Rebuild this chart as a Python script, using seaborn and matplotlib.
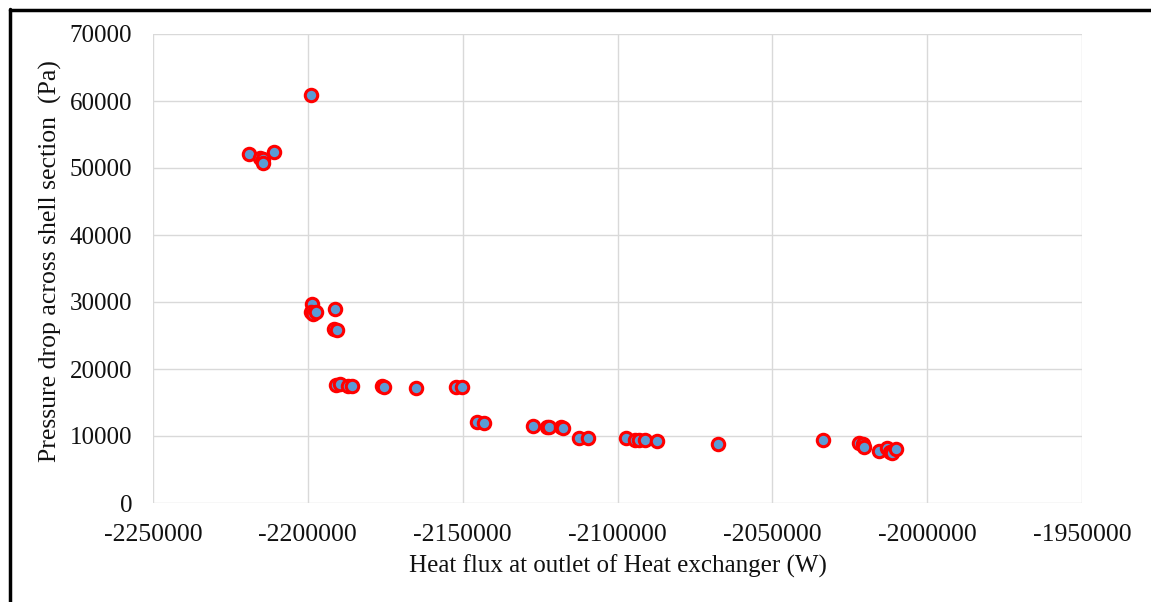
import matplotlib
matplotlib.use("Agg")
import matplotlib.pyplot as plt
from matplotlib.lines import Line2D
import seaborn as sns
import pandas as pd

heat_flux = [
    -2219100, -2215400, -2214400, -2214400, -2210900, -2199100,
    -2198500, -2199100, -2198300, -2197400, -2191300, -2191500, -2190700,
    -2190900, -2189600, -2186900, -2185800, -2176000, -2175400, -2165100,
    -2152000, -2150100, -2145400, -2143000, -2127400, -2122900, -2122100,
    -2118300, -2117700, -2112500, -2109600, -2097400, -2094500, -2093200,
    -2091100, -2087100, -2067400, -2033500, -2022000, -2020600, -2020300,
    -2015400, -2013000, -2012000, -2011300, -2010000,
]
pressure_drop = [
    52100, 51450, 51300, 50800, 52450, 60950,
    29650, 28550, 28150, 28550, 28950, 25950, 25750,
    17650, 17700, 17400, 17400, 17400, 17300, 17100,
    17250, 17250, 12050, 11900, 11500, 11300, 11300,
    11300, 11150, 9700, 9700, 9750, 9400, 9450,
    9450, 9300, 8800, 9450, 9000, 8800, 8400,
    7800, 8250, 7600, 7400, 8100,
]
x_ticks = [-2250000, -2200000, -2150000, -2100000, -2050000, -2000000, -1950000]
y_ticks = [0, 10000, 20000, 30000, 40000, 50000, 60000, 70000]
x_label = "Heat flux at outlet of Heat exchanger (W)"
y_label = "Pressure drop across shell section  (Pa)"

df = pd.DataFrame({"x": heat_flux, "y": pressure_drop})

sns.set_theme(style="white")
plt.rcParams["font.family"] = ["Liberation Serif", "DejaVu Serif"]

fig = plt.figure(figsize=(11.51, 6.02), dpi=100)
ax = fig.add_axes([153 / 1151, 1 - 503 / 602, (1082 - 153) / 1151, (503 - 34) / 602])

sns.scatterplot(data=df, x="x", y="y", ax=ax, s=80, color="#5B9BD5",
                edgecolor="#FF0000", linewidth=2.2, zorder=3, legend=False)

ax.set_xlim(x_ticks[0], x_ticks[-1])
ax.set_ylim(y_ticks[0], y_ticks[-1])
ax.set_xticks(x_ticks)
ax.set_yticks(y_ticks)
ax.set_xticklabels([str(v) for v in x_ticks], fontsize=18.5, color="#111111")
ax.set_yticklabels([str(v) for v in y_ticks], fontsize=18, color="#111111")
ax.tick_params(axis="x", length=0, pad=15)
ax.tick_params(axis="y", length=0, pad=15)
ax.grid(True, color="#D9D9D9", linewidth=1.0, zorder=0)
ax.set_axisbelow(True)
for sp in ax.spines.values():
    sp.set_visible(False)

ax.set_xlabel(x_label, fontsize=18, color="#111111")
ax.set_ylabel(y_label, fontsize=18.5, color="#111111")
ax.xaxis.set_label_coords(0.5, (503 - 566) / 469, transform=ax.transAxes)
ax.yaxis.set_label_coords((50 - 153) / 929, (503 - 261) / 469, transform=ax.transAxes)
ax.xaxis.label.set_va("center")
ax.yaxis.label.set_va("center")

# outer black frame (top and left)
fig.add_artist(Line2D([9.5 / 1151, 1.0], [1 - 9.5 / 602, 1 - 9.5 / 602],
                      transform=fig.transFigure, color="black", linewidth=2.5))
fig.add_artist(Line2D([9.5 / 1151, 9.5 / 1151], [0.0, 1 - 8.5 / 602],
                      transform=fig.transFigure, color="black", linewidth=2.5))

fig.savefig("out.png", dpi=100)
